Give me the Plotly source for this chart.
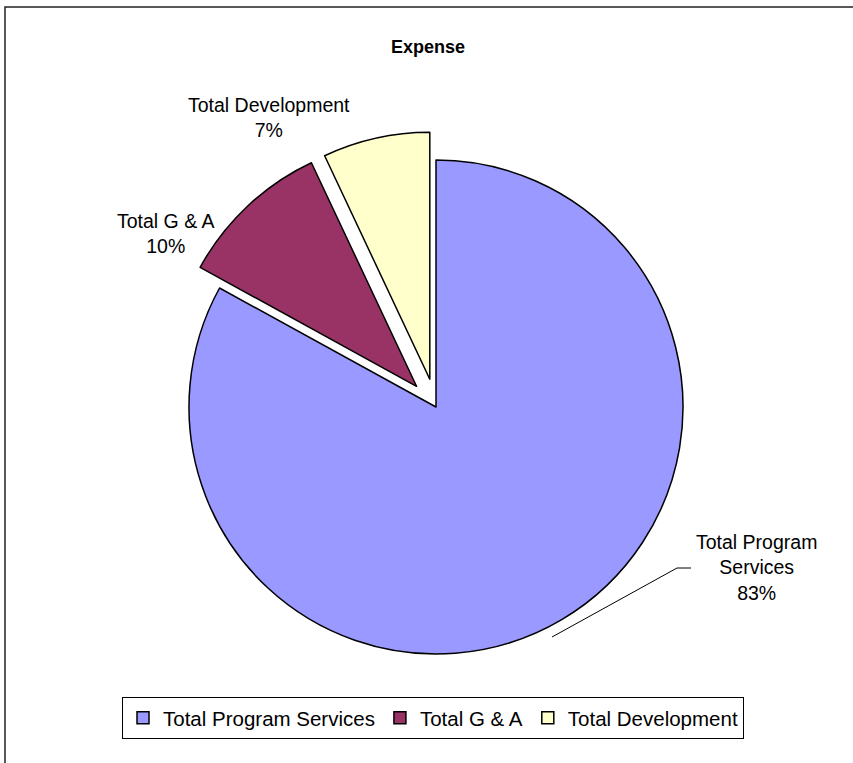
import plotly.graph_objects as go

# ---- data ----
categories = ["Total Program Services", "Total G & A", "Total Development"]
values = [83, 10, 7]
label_lines = ["Total Program<br>Services", "Total G & A", "Total Development"]
colors = ["#9999FF", "#993366", "#FFFFCC"]
pulls = [0, 0.115, 0.115]

W, H = 853, 763
def px(x):
    return x / W
def py(y):
    return 1 - y / H

# pie geometry (pixels)
cx, cy, r = 436, 407, 247
half = r * (1 + max(pulls))

total = sum(values)
pcts = [round(v / total * 100) for v in values]

fig = go.Figure()
fig.add_trace(go.Pie(
    labels=categories,
    values=values,
    sort=False,
    direction="clockwise",
    rotation=0,
    pull=pulls,
    marker=dict(colors=colors, line=dict(color="black", width=1.5)),
    textinfo="none",
    hoverinfo="label+percent",
    domain=dict(x=[px(cx - half), px(cx + half)], y=[py(cy + half), py(cy - half)]),
    showlegend=True,
))

font_family = "Liberation Sans, Arial, sans-serif"
label_pos = [(756, 567), (166, 233), (269, 117)]
annotations = []
for (lx, ly), txt, p in zip(label_pos, label_lines, pcts):
    annotations.append(dict(
        x=px(lx), y=py(ly), xref="paper", yref="paper",
        text=f"{txt}<br>{p}%", showarrow=False,
        font=dict(family=font_family, size=19.5, color="black"),
        align="center", xanchor="center", yanchor="middle",
    ))

shapes = [
    # outer chart frame
    dict(type="rect", xref="paper", yref="paper",
         x0=px(5), x1=1.02, y0=-0.02, y1=py(7),
         line=dict(color="#222222", width=1.5), fillcolor="rgba(0,0,0,0)"),
    # leader line for Program Services label
    dict(type="path", xref="paper", yref="paper",
         path=f"M {px(691)} {py(568)} L {px(677)} {py(568)} L {px(552)} {py(637)}",
         line=dict(color="black", width=1)),
]

fig.update_layout(
    width=W, height=H, autosize=False,
    margin=dict(l=0, r=0, t=0, b=0),
    paper_bgcolor="white", plot_bgcolor="white",
    title=dict(text="<b>Expense</b>", x=px(428), xanchor="center",
               y=py(47), yanchor="middle", yref="container",
               font=dict(family=font_family, size=18, color="black")),
    font=dict(family=font_family, color="black"),
    legend=dict(orientation="h", x=px(433), xanchor="center",
                y=py(697), yanchor="top",
                bordercolor="black", borderwidth=1, bgcolor="white",
                font=dict(family=font_family, size=20.5, color="black"),
                itemwidth=30, traceorder="normal"),
    annotations=annotations,
    shapes=shapes,
)

fig.write_html("out.html",
               config={"displayModeBar": False},
               post_script="document.body.style.margin='0';document.body.style.overflow='hidden';")
